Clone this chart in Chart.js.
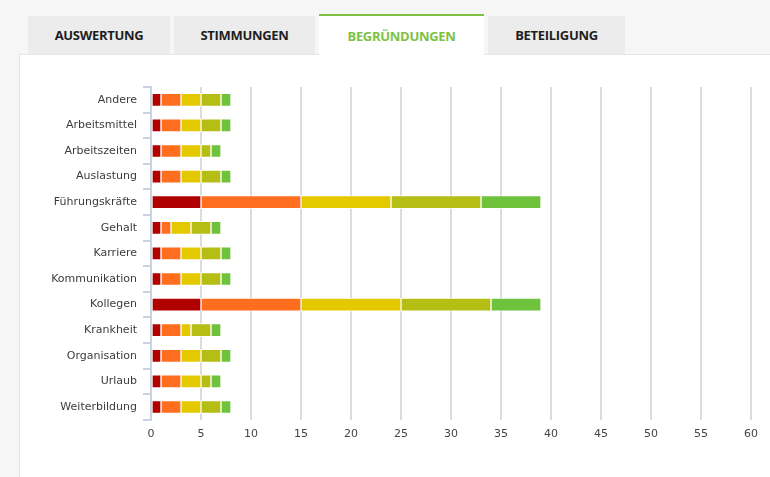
<!DOCTYPE html>
<html lang="de">
<head>
<meta charset="utf-8">
<script src="https://cdn.jsdelivr.net/npm/chart.js@4"></script>
<style>
  html, body { margin: 0; padding: 0; }
  body {
    width: 770px;
    height: 477px;
    background: #f6f6f6;
    position: relative;
    overflow: hidden;
    font-family: "Open Sans", sans-serif;
  }
  .tab {
    position: absolute;
    top: 16px;
    height: 38px;
    line-height: 38px;
    background: #ececec;
    color: #1e1e1e;
    font-weight: bold;
    font-size: 13px;
    letter-spacing: -0.3px;
    text-align: center;
  }
  .tab.active {
    top: 14px;
    height: 41px;
    line-height: 40px;
    background: #fff;
    border-top: 2px solid #7dc142;
    box-sizing: border-box;
    color: #7dc142;
    z-index: 2;
  }
  #panel {
    position: absolute;
    left: 19px;
    top: 54px;
    width: 760px;
    height: 430px;
    background: #fff;
    border-top: 1px solid #e6e6e6;
    border-left: 1px solid #e6e6e6;
  }
  #chartWrap {
    position: absolute;
    left: 19px;
    top: 55px;
    width: 751px;
    height: 422px;
  }
</style>
</head>
<body>
<div class="tab" style="left:28px;width:142px;">AUSWERTUNG</div>
<div class="tab" style="left:174px;width:141px;">STIMMUNGEN</div>
<div class="tab active" style="left:319px;width:165px;">BEGRÜNDUNGEN</div>
<div class="tab" style="left:488px;width:137px;">BETEILIGUNG</div>
<div id="panel"></div>
<div id="chartWrap"><canvas id="chart"></canvas></div>

<script>
const categories = [
  "Andere", "Arbeitsmittel", "Arbeitszeiten", "Auslastung", "Führungskräfte",
  "Gehalt", "Karriere", "Kommunikation", "Kollegen", "Krankheit",
  "Organisation", "Urlaub", "Weiterbildung"
];

// one array per mood level, read from the stacked segments
const sehrSchlecht = [1, 1, 1, 1, 5, 1, 1, 1, 5, 1, 1, 1, 1];
const schlecht     = [2, 2, 2, 2, 10, 1, 2, 2, 10, 2, 2, 2, 2];
const neutral      = [2, 2, 2, 2, 9, 2, 2, 2, 10, 1, 2, 2, 2];
const gut          = [2, 2, 1, 2, 9, 2, 2, 2, 9, 2, 2, 1, 2];
const sehrGut      = [1, 1, 1, 1, 6, 1, 1, 1, 5, 1, 1, 1, 1];

const seriesNames = ["sehr schlecht", "schlecht", "neutral", "gut", "sehr gut"];
const seriesColors = ["#b00000", "#ff6e1f", "#e5c900", "#b4be14", "#6ec23c"];

const xMax = 60;
const xStep = 5;

const allSeries = [sehrSchlecht, schlecht, neutral, gut, sehrGut];

const chart = new Chart(document.getElementById("chart"), {
  type: "bar",
  data: {
    labels: categories,
    datasets: allSeries.map((values, i) => ({
      label: seriesNames[i],
      data: values,
      backgroundColor: seriesColors[i],
      borderColor: "rgba(255,255,255,0.85)",
      borderWidth: 1,
      borderSkipped: false,
      barThickness: 13,
    })),
  },
  options: {
    indexAxis: "y",
    responsive: true,
    maintainAspectRatio: false,
    animation: false,
    layout: {
      padding: { top: 32, right: 19, bottom: 28, left: 0 },
    },
    scales: {
      x: {
        stacked: true,
        min: 0,
        max: xMax,
        ticks: {
          stepSize: xStep,
          padding: 8,
          color: "#444",
          font: { family: "DejaVu Sans", size: 11 },
        },
        grid: {
          color: "#dcdcdc",
          lineWidth: 2,
          drawTicks: false,
        },
        border: { display: false },
      },
      y: {
        stacked: true,
        afterFit: (scale) => {
          scale.width = 132;
        },
        ticks: {
          padding: 6,
          color: "#3c3c3c",
          font: { family: "DejaVu Sans", size: 11 },
        },
        grid: {
          drawOnChartArea: false,
          tickLength: 8,
          color: "#c9d3e1",
          lineWidth: 2,
        },
        border: { color: "#c9d3e1", width: 2 },
      },
    },
    plugins: {
      legend: { display: false },
      tooltip: { enabled: false },
    },
  },
});
</script>
</body>
</html>
